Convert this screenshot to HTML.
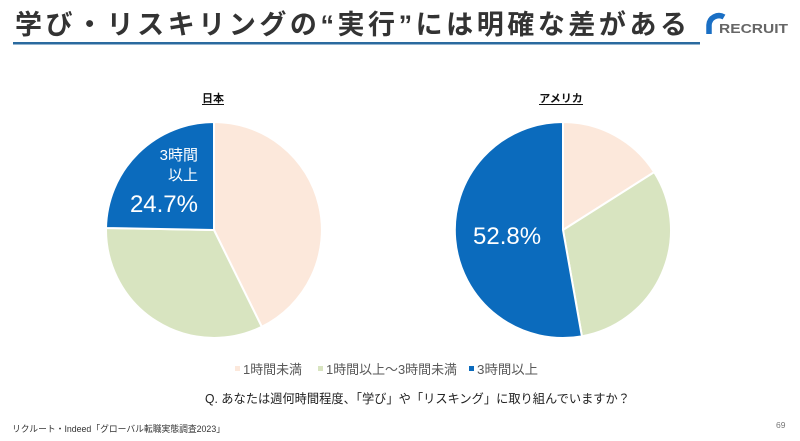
<!DOCTYPE html>
<html>
<head>
<meta charset="utf-8">
<style>
  html,body{margin:0;padding:0;background:#fff;}
  svg{display:block;}
  text{font-family:"Liberation Sans","Noto Sans CJK JP",sans-serif;}
</style>
</head>
<body>
<svg width="800" height="441" viewBox="0 0 800 441" xmlns="http://www.w3.org/2000/svg">
  <rect width="800" height="441" fill="#fff"/>

  <!-- Title -->
  <text x="15" y="34" font-size="27" font-weight="bold" fill="#333" textLength="672" lengthAdjust="spacing">学び・リスキリングの“実行”には明確な差がある</text>
  <rect x="13" y="42" width="687" height="2.5" fill="#2a6a9f"/>

  <!-- Logo -->
  <path d="M709,34 V25 A10,10 0 0 1 724,17" fill="none" stroke="#1a6fc4" stroke-width="5.5" stroke-linecap="butt"/>
  <text x="719" y="33" font-size="13" font-weight="bold" fill="#666" textLength="69" lengthAdjust="spacingAndGlyphs">RECRUIT</text>

  <!-- Section titles -->
  <text x="213" y="102" font-size="11" font-weight="bold" fill="#111" text-anchor="middle">日本</text>
  <line x1="202" y1="104.5" x2="224" y2="104.5" stroke="#111" stroke-width="1"/>
  <text x="561" y="102" font-size="11" font-weight="bold" fill="#111" text-anchor="middle">アメリカ</text>
  <line x1="539" y1="104.5" x2="583" y2="104.5" stroke="#111" stroke-width="1"/>

  <!-- Japan pie -->
  <g stroke="#fff" stroke-width="2" stroke-linejoin="round">
    <path d="M214,230 L214,122 A108,108 0 0 1 261.8,326.8 Z" fill="#fce8db"/>
    <path d="M214,230 L261.8,326.8 A108,108 0 0 1 106.02,227.96 Z" fill="#d8e4c0"/>
    <path d="M214,230 L106.02,227.96 A108,108 0 0 1 214,122 Z" fill="#0b6bbd"/>
  </g>
  <text x="198" y="160" font-size="15" fill="#fff" text-anchor="end">3時間</text>
  <text x="198" y="180" font-size="15" fill="#fff" text-anchor="end">以上</text>
  <text x="198" y="212" font-size="24" fill="#fff" text-anchor="end">24.7%</text>

  <!-- America pie -->
  <g stroke="#fff" stroke-width="2" stroke-linejoin="round">
    <path d="M563,230 L563,122 A108,108 0 0 1 654.2,172.1 Z" fill="#fce8db"/>
    <path d="M563,230 L654.2,172.1 A108,108 0 0 1 581.9,336.3 Z" fill="#d8e4c0"/>
    <path d="M563,230 L581.9,336.3 A108,108 0 1 1 563,122 Z" fill="#0b6bbd"/>
  </g>
  <text x="473" y="244" font-size="24" fill="#fff">52.8%</text>

  <!-- Legend -->
  <rect x="235" y="366" width="5" height="5" fill="#fce8db"/>
  <text x="243" y="374" font-size="13" fill="#595959" textLength="59" lengthAdjust="spacingAndGlyphs">1時間未満</text>
  <rect x="318" y="366" width="5" height="5" fill="#d8e4c0"/>
  <text x="326" y="374" font-size="13" fill="#595959" textLength="131" lengthAdjust="spacingAndGlyphs">1時間以上～3時間未満</text>
  <rect x="469" y="366" width="5" height="5" fill="#0b6bbd"/>
  <text x="477" y="374" font-size="13" fill="#595959" textLength="61" lengthAdjust="spacingAndGlyphs">3時間以上</text>

  <!-- Question -->
  <text x="205" y="403" font-size="12.5" fill="#222" textLength="425" lengthAdjust="spacingAndGlyphs">Q. あなたは週何時間程度、「学び」や「リスキング」に取り組んでいますか？</text>

  <!-- Footer -->
  <text x="12" y="432" font-size="9" fill="#333" textLength="213" lengthAdjust="spacingAndGlyphs">リクルート・Indeed「グローバル転職実態調査2023」</text>
  <text x="776" y="428" font-size="8.5" fill="#777">69</text>
</svg>
</body>
</html>
